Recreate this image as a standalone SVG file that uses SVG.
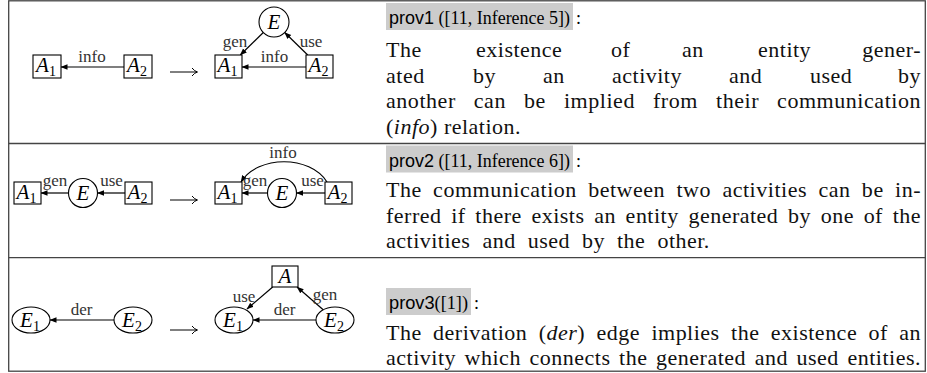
<svg xmlns="http://www.w3.org/2000/svg" width="927" height="373" viewBox="0 0 927 373">
<style>
.nb{fill:#fff;stroke:#000;stroke-width:1.1}
.e{fill:none;stroke:#000;stroke-width:1.2;marker-end:url(#ah)}
.la{fill:none;stroke:#000;stroke-width:1}
.lbl{font-family:"Liberation Serif","DejaVu Serif","Times New Roman",serif;font-size:17px;fill:#333;text-anchor:middle}
.nl{font-family:"Liberation Serif","DejaVu Serif","Times New Roman",serif;font-size:21px;font-style:italic;text-anchor:middle;fill:#000}
.sub{font-size:14px;font-style:normal}
.body{font-family:"Liberation Serif","DejaVu Serif","Times New Roman",serif;font-size:22px;letter-spacing:0.5px;fill:#111}
.tag{font-family:"Liberation Serif","DejaVu Serif","Times New Roman",serif;font-size:18px;fill:#000}
.sans{font-family:"Liberation Sans","DejaVu Sans",sans-serif}
.gbox{fill:#cccccc}
.grid{fill:none;stroke:#444;stroke-width:1.3}
</style>
<defs>
<marker id="ah" markerWidth="8" markerHeight="7" refX="6.5" refY="3.5" orient="auto" markerUnits="userSpaceOnUse">
<path d="M0,0.8 L7,3.5 L0,6.2 z" fill="#000"/>
</marker>
</defs>

<g id="table">
<rect class="grid" x="8.7" y="0.8" width="916.6" height="370.4"/>
<line class="grid" x1="8.7" y1="143.5" x2="925.3" y2="143.5"/>
<line class="grid" x1="8.7" y1="257.7" x2="925.3" y2="257.7"/>
</g>

<g id="connectors">
<path class="e" d="M124,67 H61"/>
<path class="e" d="M263.3,32.5 L240.3,55"/>
<path class="e" d="M307.7,55 L284.7,32.5"/>
<path class="e" d="M306,67 H242"/>
<path class="e" d="M68.5,193 H41"/>
<path class="e" d="M125,193 H97.5"/>
<path class="e" d="M267.5,193 H242"/>
<path class="e" d="M325,193 H296.5"/>
<path class="e" d="M327,182 C310,155 258,155 241,182"/>
<path class="e" d="M114,320 H50"/>
<path class="e" d="M316,320 H253"/>
<path class="e" d="M272.7,287 L247,309"/>
<path class="e" d="M323.2,309.8 L297.1,287"/>
<text class="lbl" x="92" y="62">info</text>
<text class="lbl" x="235" y="47">gen</text>
<text class="lbl" x="311" y="47">use</text>
<text class="lbl" x="274.5" y="62">info</text>
<text class="lbl" x="55" y="186">gen</text>
<text class="lbl" x="111.5" y="186">use</text>
<text class="lbl" x="255" y="186">gen</text>
<text class="lbl" x="312.5" y="186">use</text>
<text class="lbl" x="283" y="158">info</text>
<text class="lbl" x="81.5" y="315">der</text>
<text class="lbl" x="284.5" y="315">der</text>
<text class="lbl" x="244" y="302">use</text>
<text class="lbl" x="325" y="300">gen</text>
<path class="la" d="M170,72 H196.5 M192,68 Q194.5,71.2 197.5,72 Q194.5,72.8 192,76"/>
<path class="la" d="M170,200 H196.5 M192,196 Q194.5,199.2 197.5,200 Q194.5,200.8 192,204"/>
<path class="la" d="M170,330 H196.5 M192,326 Q194.5,329.2 197.5,330 Q194.5,330.8 192,334"/>
</g>

<g id="r1-A1"><rect class="nb" x="33" y="55" width="28" height="23"/><text class="nl" x="46" y="72">A<tspan class="sub" dy="4">1</tspan></text></g>
<g id="r1-A2"><rect class="nb" x="124" y="55" width="28" height="23"/><text class="nl" x="137" y="72">A<tspan class="sub" dy="4">2</tspan></text></g>
<g id="r1-A1b"><rect class="nb" x="215" y="55" width="27" height="23"/><text class="nl" x="227.5" y="72">A<tspan class="sub" dy="4">1</tspan></text></g>
<g id="r1-A2b"><rect class="nb" x="306" y="55" width="27" height="23"/><text class="nl" x="318.5" y="72">A<tspan class="sub" dy="4">2</tspan></text></g>
<g id="r1-E"><circle class="nb" cx="274" cy="22" r="15"/><text class="nl" x="274" y="29">E</text></g>

<g id="r2-A1"><rect class="nb" x="14" y="182" width="27" height="22"/><text class="nl" x="26.5" y="198.5">A<tspan class="sub" dy="4">1</tspan></text></g>
<g id="r2-E"><circle class="nb" cx="83" cy="193" r="14.5"/><text class="nl" x="83" y="200">E</text></g>
<g id="r2-A2"><rect class="nb" x="125" y="182" width="27" height="22"/><text class="nl" x="137.5" y="198.5">A<tspan class="sub" dy="4">2</tspan></text></g>
<g id="r2-A1b"><rect class="nb" x="215" y="182" width="27" height="22"/><text class="nl" x="227.5" y="198.5">A<tspan class="sub" dy="4">1</tspan></text></g>
<g id="r2-Eb"><circle class="nb" cx="282" cy="193" r="14.5"/><text class="nl" x="282" y="200">E</text></g>
<g id="r2-A2b"><rect class="nb" x="325" y="182" width="27" height="22"/><text class="nl" x="337.5" y="198.5">A<tspan class="sub" dy="4">2</tspan></text></g>

<g id="r3-E1"><ellipse class="nb" cx="31" cy="320" rx="19" ry="13"/><text class="nl" x="30" y="327">E<tspan class="sub" dy="4">1</tspan></text></g>
<g id="r3-E2"><ellipse class="nb" cx="133" cy="320" rx="19" ry="13"/><text class="nl" x="132" y="327">E<tspan class="sub" dy="4">2</tspan></text></g>
<g id="r3-E1b"><ellipse class="nb" cx="234" cy="320" rx="19" ry="13"/><text class="nl" x="233" y="327">E<tspan class="sub" dy="4">1</tspan></text></g>
<g id="r3-E2b"><ellipse class="nb" cx="335" cy="320" rx="19" ry="13"/><text class="nl" x="334" y="327">E<tspan class="sub" dy="4">2</tspan></text></g>
<g id="r3-A"><rect class="nb" x="272" y="266" width="26" height="21"/><text class="nl" x="285" y="283">A</text></g>

<g id="r1-text">
<rect class="gbox" x="386" y="3" width="187" height="27"/>
<text class="tag" x="389" y="24" textLength="181" lengthAdjust="spacingAndGlyphs"><tspan class="sans">prov1</tspan> ([11, Inference 5])</text>
<text class="tag" x="576" y="24">:</text>
<text class="body" y="57"><tspan x="386">The</tspan><tspan x="476">existence</tspan><tspan x="611">of</tspan><tspan x="682">an</tspan><tspan x="758">entity</tspan></text>
<text class="body" x="921" y="57" text-anchor="end">gener-</text>
<text class="body" y="82.5"><tspan x="386">ated</tspan><tspan x="473">by</tspan><tspan x="543">an</tspan><tspan x="612">activity</tspan><tspan x="729">and</tspan><tspan x="810">used</tspan></text>
<text class="body" x="921" y="82.5" text-anchor="end">by</text>
<text class="body" x="386" y="108" word-spacing="12" textLength="535" lengthAdjust="spacing">another can be implied from their communication</text>
<text class="body" x="386" y="133.5">(<tspan font-style="italic">info</tspan>) relation.</text>
</g>

<g id="r2-text">
<rect class="gbox" x="386" y="145.5" width="187" height="27"/>
<text class="tag" x="389" y="166.5" textLength="181" lengthAdjust="spacingAndGlyphs"><tspan class="sans">prov2</tspan> ([11, Inference 6])</text>
<text class="tag" x="576" y="166.5">:</text>
<text class="body" x="386" y="197" word-spacing="5.3" textLength="535" lengthAdjust="spacing">The communication between two activities can be in-</text>
<text class="body" x="386" y="222.5" word-spacing="3.7" textLength="535" lengthAdjust="spacing">ferred if there exists an entity generated by one of the</text>
<text class="body" x="386" y="248" word-spacing="6">activities and used by the other.</text>
</g>

<g id="r3-text">
<rect class="gbox" x="386" y="288" width="85" height="27"/>
<text class="tag" x="389" y="309" textLength="79" lengthAdjust="spacingAndGlyphs"><tspan class="sans">prov3</tspan>([1])</text>
<text class="tag" x="474" y="309">:</text>
<text class="body" x="386" y="340" word-spacing="5.4" textLength="535" lengthAdjust="spacing">The derivation (<tspan font-style="italic">der</tspan>) edge implies the existence of an</text>
<text class="body" x="386" y="365" word-spacing="2.6" textLength="535" lengthAdjust="spacing">activity which connects the generated and used entities.</text>
</g>
</svg>
